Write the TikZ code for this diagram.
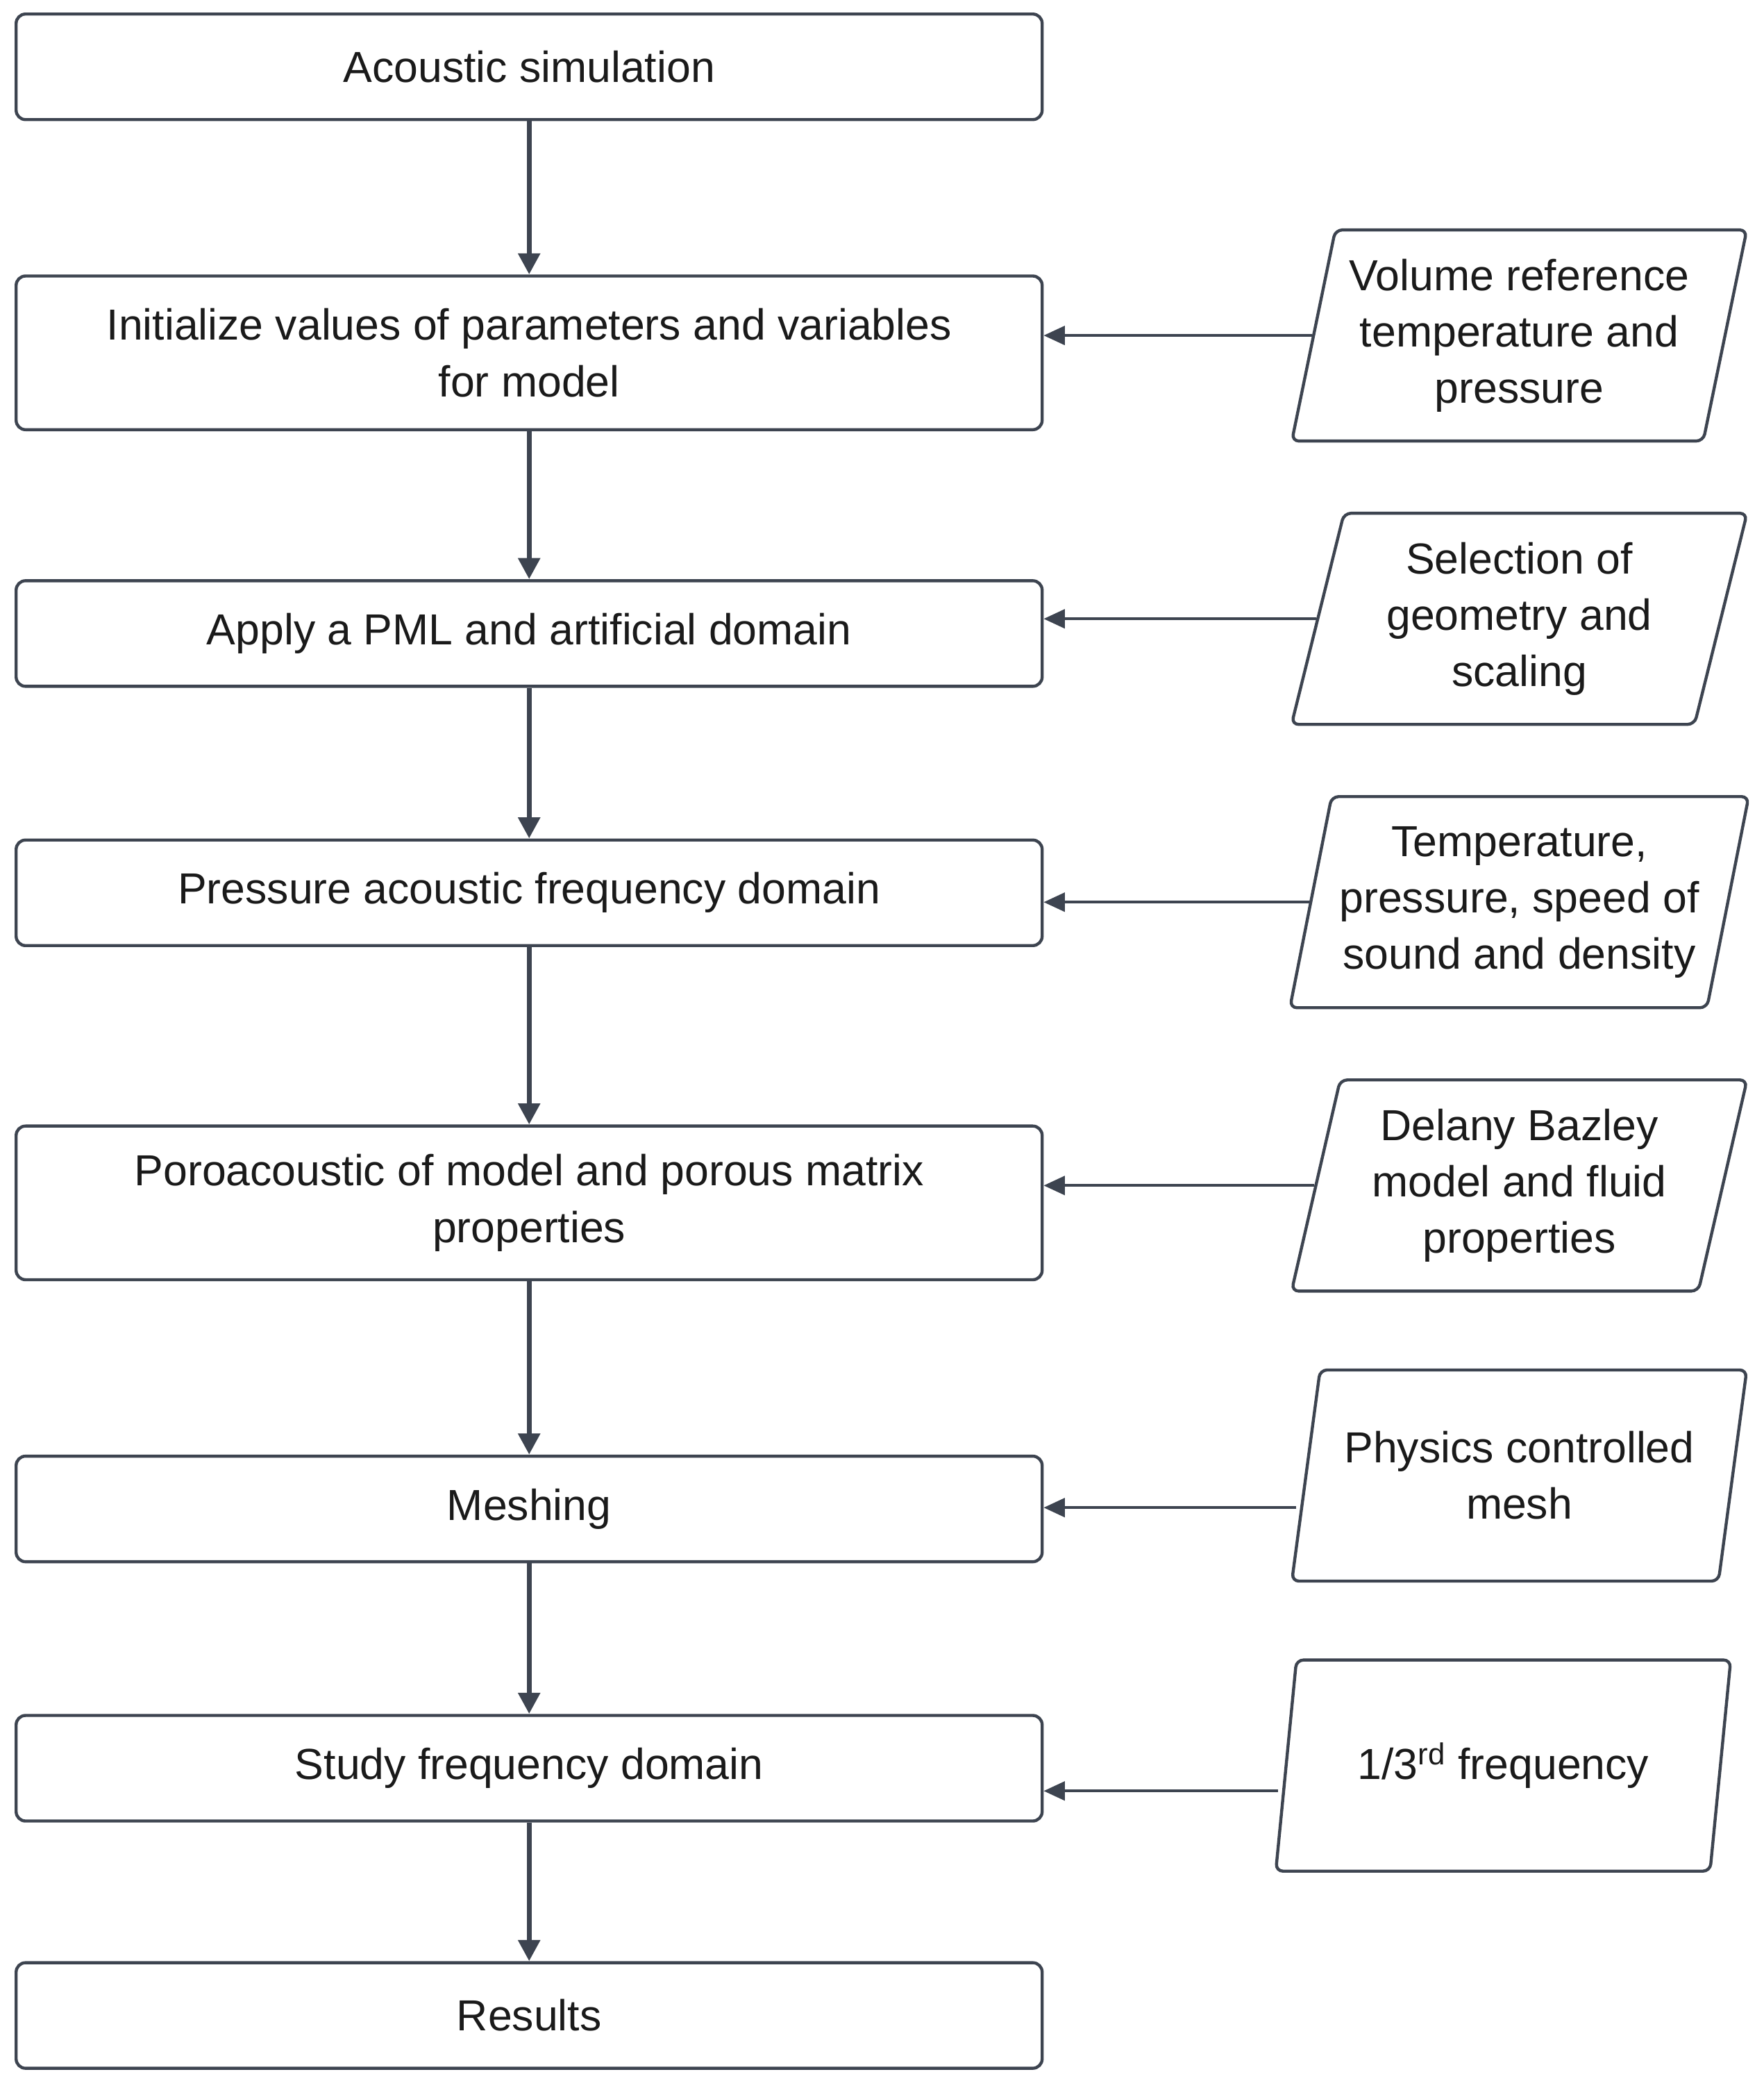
\documentclass[tikz,border=0pt]{standalone}
\usepackage{fontspec}
\setmainfont{Liberation Sans}
\usetikzlibrary{shapes.geometric,arrows.meta}
\definecolor{ln}{HTML}{3D4450}
\definecolor{tx}{HTML}{1A1A1A}
\begin{document}
\begin{tikzpicture}[x=0.02cm,y=-0.02cm,
  box/.style={draw=ln,line width=1.3pt,rounded corners=4pt,minimum width=15.36cm,text=tx,align=center,font=\fontsize{18.5}{24}\selectfont},
  sbox/.style={box,minimum height=1.58cm},
  tbox/.style={box,minimum height=2.3cm},
  para/.style={draw=ln,line width=1.3pt,trapezium,trapezium left angle=76,trapezium right angle=104,trapezium stretches=true,minimum width=6.82cm,minimum height=3.16cm,rounded corners=3pt,text=tx,align=center,font=\fontsize{18.5}{24}\selectfont},
  va/.style={draw=ln,line width=2.2pt,-{Triangle[length=9pt,width=9pt]}},
  ha/.style={draw=ln,line width=1.2pt,-{Triangle[length=9pt,width=8pt]}}]
\useasboundingbox (0,0) rectangle (1320,1569);
\node[sbox] (b1) at (396,50) {Acoustic simulation};
\node[tbox] (b2) at (396,264) {Initialize values of parameters and variables\\for model};
\node[sbox] (b3) at (396,474) {Apply a PML and artificial domain};
\node[sbox] (b4) at (396,668) {Pressure acoustic frequency domain};
\node[tbox] (b5) at (396,900) {Poroacoustic of model and porous matrix\\properties};
\node[sbox] (b6) at (396,1129) {Meshing};
\node[sbox] (b7) at (396,1323) {Study frequency domain};
\node[sbox] (b8) at (396,1508) {Results};
\node[para] (p1) at (1137,251) {Volume reference\\temperature and\\pressure};
\node[para] (p2) at (1137,463) {Selection of\\geometry and\\scaling};
\node[para] (p3) at (1137,675) {Temperature,\\pressure, speed of\\sound and density};
\node[para] (p4) at (1137,887) {Delany Bazley\\model and fluid\\properties};
\node[para] (p5) at (1137,1104) {Physics controlled\\mesh};
\node[para] (p6) at (1125,1321) {1/3\textsuperscript{rd} frequency};
\foreach \a/\b in {b1/b2,b2/b3,b3/b4,b4/b5,b5/b6,b6/b7,b7/b8} \draw[va] (\a) -- (\b);
\draw[ha] (p1.west) -- (b2.east |- p1.west);
\draw[ha] (p2.west) -- (b3.east |- p2.west);
\draw[ha] (p3.west) -- (b4.east |- p3.west);
\draw[ha] (p4.west) -- (b5.east |- p4.west);
\coordinate (q5) at ([shift={(-6,24)}]p5.west);
\coordinate (q6) at ([shift={(-5,19)}]p6.west);
\draw[ha] (q5) -- (b6.east |- q5);
\draw[ha] (q6) -- (b7.east |- q6);
\end{tikzpicture}
\end{document}
